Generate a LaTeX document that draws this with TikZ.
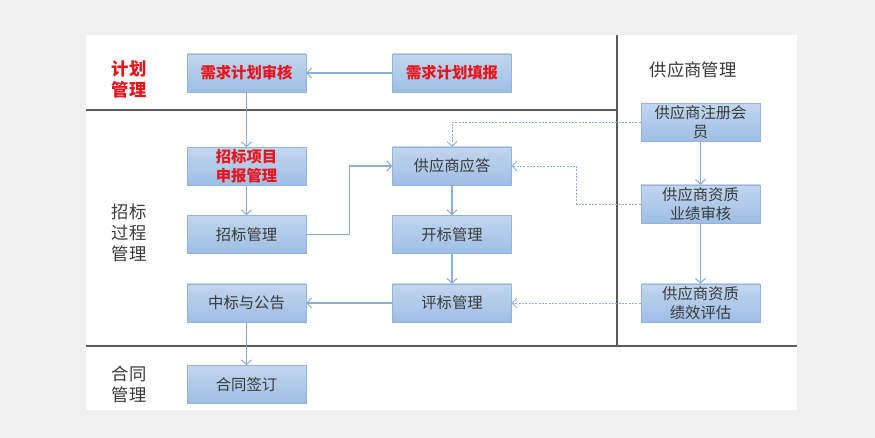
\documentclass[tikz,border=0pt]{standalone}
\usepackage{fontspec}
\setmainfont{Noto Sans CJK SC}
\usepackage{xcolor}
\usetikzlibrary{arrows.meta}
\definecolor{boxedge}{HTML}{95B3D7}
\definecolor{boxtop}{HTML}{C2D6EF}
\definecolor{boxbot}{HTML}{9DBEE5}
\definecolor{boxtext}{HTML}{3A3A3A}
\definecolor{planred}{HTML}{E8141C}
\definecolor{linkblue}{HTML}{8AAED8}
\definecolor{laneline}{HTML}{5A5A5A}
\tikzstyle{flow box}=[
        draw = boxedge,
        top color = boxtop,
        bottom color = boxbot,
        minimum width = 89.25pt,
        minimum height = 28.5pt,
        inner sep = 1pt,
        align = center,
        text = boxtext,
        font = \fontsize{11.5}{14.25}\selectfont
    ]
\tikzstyle{red box}=[
    flow box,
    text = planred,
    font = \fontsize{11.5}{14.25}\selectfont\bfseries
]
\tikzstyle{lane label}=[
    align = center,
    text = boxtext,
    font = \fontsize{13}{15.75}\selectfont
]
\tikzstyle{link}=[
    draw = linkblue,
    line width = 0.8pt,
    -{Straight Barb[length=3.5pt,width=7.5pt]}
]
\tikzstyle{dash link}=[
    link,
    line width = 0.6pt,
    dash pattern = on 1.5pt off 1pt
]
\begin{document}
\begin{tikzpicture}[x=0.75pt, y=-0.75pt]
        % page and lanes
        \fill[black!6] (0,0) rectangle (875,438);
        \fill[white] (86,35) rectangle (797,410);
        \useasboundingbox (0,0) rectangle (875,438);
        \draw[laneline, line width=1pt] (86,110) -- (617,110);
        \draw[laneline, line width=1pt] (86,346) -- (797,346);
        \draw[laneline, line width=1pt] (617,35) -- (617,346);

        \node[lane label, text = planred, font = \fontsize{13}{15.75}\selectfont\bfseries] (planlane) at (129,79) {计划\\管理};
        \node[lane label] (tenderlane) at (129,232.5) {招标\\过程\\管理};
        \node[lane label] (contractlane) at (129,384) {合同\\管理};
        \node[lane label] (supplierlane) at (693,70) {供应商管理};

        \node[red box] (plancheck) at (246.5,73) {需求计划审核};
        \node[red box] (planfill) at (452,73) {需求计划填报};
        \node[red box] (project) at (246.5,166.5) {招标项目\\申报管理};
        \node[flow box] (tender) at (246.5,234.5) {招标管理};
        \node[flow box] (award) at (246.5,303) {中标与公告};
        \node[flow box] (contract) at (246.5,384.5) {合同签订};
        \node[flow box] (answer) at (452,166) {供应商应答};
        \node[flow box] (opening) at (452,234.5) {开标管理};
        \node[flow box] (evaluation) at (452,303) {评标管理};
        \node[flow box] (register) at (700.5,122.5) {供应商注册会\\员};
        \node[flow box] (audit) at (700.5,204) {供应商资质\\业绩审核};
        \node[flow box] (rating) at (700.5,303) {供应商资质\\绩效评估};

        \draw[link] (planfill) -- (plancheck);
        \draw[link] (plancheck) -- (project);
        \draw[link] (project) -- (tender);
        \draw[link] (tender.east) -- ++(43,0) |- (answer.west);
        \draw[link] (answer) -- (opening);
        \draw[link] (opening) -- (evaluation);
        \draw[link] (evaluation) -- (award);
        \draw[link] (award) -- (contract);
        \draw[link] (register) -- (audit);
        \draw[link] (audit) -- (rating);

        \draw[dash link] (register.west) -| (answer.north);
        \draw[dash link] (audit.west) -- ++(-64,0) |- (answer.east);
        \draw[dash link] (rating) -- (evaluation);
    \end{tikzpicture}
\end{document}
